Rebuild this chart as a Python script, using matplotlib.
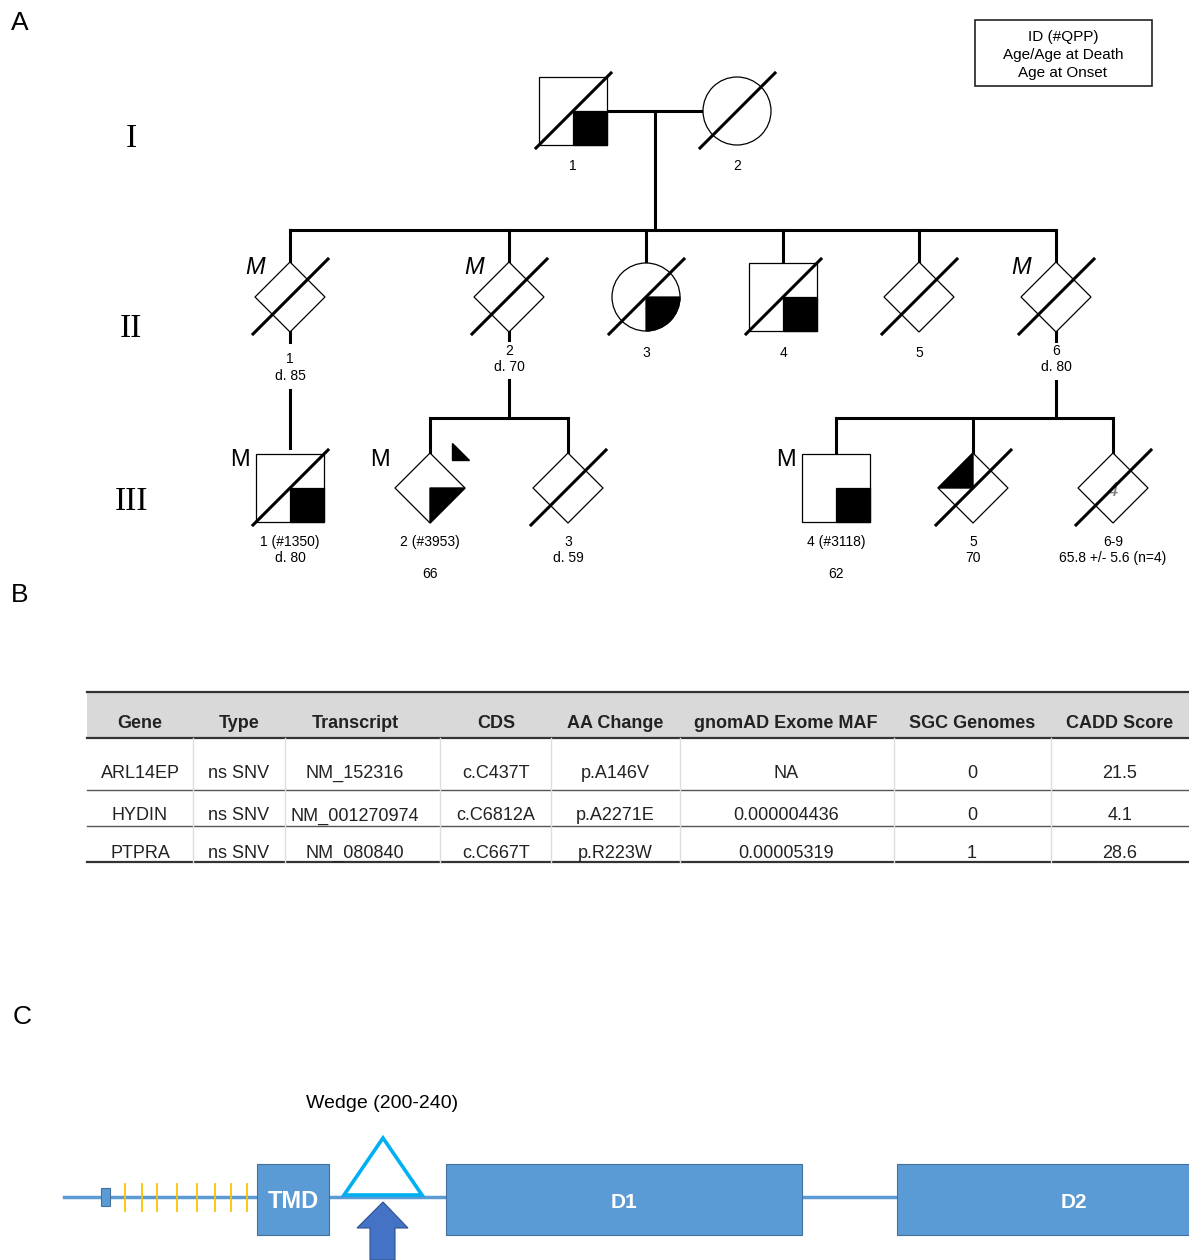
import matplotlib.pyplot as plt
from matplotlib.patches import Rectangle, Circle, Polygon, Wedge

plt.rcParams['font.family'] = ['Liberation Sans', 'DejaVu Sans']

# ---------------- data ----------------
# pedigree: generation, shape, shading, deceased, marker, label lines
gen_names = ['I', 'II', 'III']

ped_gen = [0, 0,
           1, 1, 1, 1, 1, 1,
           2, 2, 2, 2, 2, 2]
ped_shape = ['square', 'circle',
             'diamond', 'diamond', 'circle', 'square', 'diamond', 'diamond',
             'square', 'diamond', 'diamond', 'square', 'diamond', 'diamond']
ped_fill = ['lr', None,
            None, None, 'lr', 'lr', None, None,
            'lr', 'lr', None, 'lr', 'ul', None]
ped_dead = [True, True,
            True, True, True, True, True, True,
            True, False, True, False, True, True]
ped_M = [None, None,
         'it', 'it', None, None, None, 'it',
         'up', 'up', None, 'up', None, None]
ped_label1 = ['1', '2',
              '1', '2', '3', '4', '5', '6',
              '1 (#1350)', '2 (#3953)', '3', '4 (#3118)', '5', '6-9']
ped_label2 = ['', '',
              'd. 85', 'd. 70', '', '', '', 'd. 80',
              'd. 80', '', 'd. 59', '', '70', '65.8 +/- 5.6 (n=4)']
ped_label3 = ['', '', '', '', '', '', '', '',
              '', '66', '', '62', '', '']
ped_inner = [''] * 13 + ['4']
legend_lines = ['ID (#QPP)', 'Age/Age at Death', 'Age at Onset']

# table
tbl_header = ['Gene', 'Type', 'Transcript', 'CDS', 'AA Change',
              'gnomAD Exome MAF', 'SGC Genomes', 'CADD Score']
gene = ['ARL14EP', 'HYDIN', 'PTPRA']
vtype = ['ns SNV', 'ns SNV', 'ns SNV']
transcript = ['NM_152316', 'NM_001270974', 'NM_080840']
cds = ['c.C437T', 'c.C6812A', 'c.C667T']
aa_change = ['p.A146V', 'p.A2271E', 'p.R223W']
gnomad_maf = ['NA', '0.000004436', '0.00005319']
sgc_genomes = ['0', '0', '1']
cadd = ['21.5', '4.1', '28.6']

# protein domains
dom_names = ['TMD', 'D1', 'D2']
wedge_label = 'Wedge (200-240)'

# ---------------- layout (pixels) ----------------
W, H = 1189, 1260
gen_y = [111, 297, 488]
ped_x = [573, 737,
         290, 509, 646, 783, 919, 1056,
         290, 430, 568, 836, 973, 1113]
lab_y = [[165], [352, 368], [541, 557, 573]]

col_x = [140, 239, 355, 496, 615, 786, 972, 1120]
col_sep = [193, 285, 440, 551, 680, 894, 1051]
row_y = [771, 814, 851]
row_lines = [790, 826]

dom_x = [(257, 329), (446, 802), (897, 1200)]
tick_x = [125, 142, 157, 177, 197, 215, 231, 247]

BLUE = '#5b9bd5'
BLUE_EDGE = '#41719c'

fig = plt.figure(figsize=(W / 100, H / 100), dpi=100)
ax = fig.add_axes([0, 0, 1, 1])
ax.set_xlim(0, W)
ax.set_ylim(H, 0)
ax.set_aspect('equal')
ax.axis('off')


def txt(x, y, s, fs, **kw):
    # place text so that the middle of its cap height sits at y
    ax.text(x, y + 0.5 * 0.72 * fs * 100 / 72, s, fontsize=fs, ha='center', va='baseline', **kw)


# panel letters
for s, (x, y) in zip(['A', 'B', 'C'], [(20, 20), (20, 592), (22, 1015)]):
    txt(x, y, s, 19)

# generation numerals
for s, y in zip(gen_names, [135, 325, 498]):
    txt(131, y, s, 24, family='Liberation Serif')

# legend box
ax.add_patch(Rectangle((975, 20), 177, 66, fill=False, lw=1.2, ec='#222222'))
for i, s in enumerate(legend_lines):
    txt(1063, 35 + i * 18.5, s, 11)


def symbol(x, y, shape, fill, dead):
    if shape == 'square':
        h = 34
        ax.add_patch(Rectangle((x - h, y - h), 2 * h, 2 * h, fc='white', ec='black', lw=0.9, zorder=3))
        if fill == 'lr':
            ax.add_patch(Rectangle((x, y), h, h, fc='black', ec='black', lw=0.9, zorder=4))
    elif shape == 'circle':
        h = 34
        ax.add_patch(Circle((x, y), h, fc='white', ec='black', lw=0.9, zorder=3))
        if fill == 'lr':
            ax.add_patch(Wedge((x, y), h, 0, 90, fc='black', ec='black', lw=0.9, zorder=4))
    else:
        h = 35
        ax.add_patch(Polygon([(x, y - h), (x + h, y), (x, y + h), (x - h, y)],
                             closed=True, fc='white', ec='black', lw=0.9, zorder=3))
        if fill == 'lr':
            ax.add_patch(Polygon([(x, y), (x + h, y), (x, y + h)], fc='black', ec='black', zorder=4))
        elif fill == 'ul':
            ax.add_patch(Polygon([(x, y), (x - h, y), (x, y - h)], fc='black', ec='black', zorder=4))
    if dead:
        ax.plot([x - 37, x + 38], [y + 37, y - 38], color='black', lw=2.2, zorder=5)
    return h


LW = 2.2
# generation I mating and descent
ax.plot([607, 703], [111, 111], color='black', lw=LW, zorder=1)
ax.plot([655, 655], [111, 230], color='black', lw=LW, zorder=1)
ax.plot([290, 1056], [230, 230], color='black', lw=LW, zorder=1)
for x in ped_x[2:8]:
    ax.plot([x, x], [230, 262], color='black', lw=LW, zorder=1)
# II-1 -> III-1
ax.plot([290, 290], [332, 342], color='black', lw=LW, zorder=1)
ax.plot([290, 290], [390, 448], color='black', lw=LW, zorder=1)
# II-2 -> III-2, III-3
ax.plot([509, 509], [332, 340], color='black', lw=LW, zorder=1)
ax.plot([509, 509], [380, 418], color='black', lw=LW, zorder=1)
ax.plot([430, 568], [418, 418], color='black', lw=LW, zorder=1)
for x in [430, 568]:
    ax.plot([x, x], [418, 452], color='black', lw=LW, zorder=1)
# II-6 -> III-4..6
ax.plot([1056, 1056], [332, 341], color='black', lw=LW, zorder=1)
ax.plot([1056, 1056], [381, 418], color='black', lw=LW, zorder=1)
ax.plot([836, 1113], [418, 418], color='black', lw=LW, zorder=1)
for x in [836, 973, 1113]:
    ax.plot([x, x], [418, 454], color='black', lw=LW, zorder=1)

for i in range(len(ped_x)):
    g = ped_gen[i]
    x, y = ped_x[i], gen_y[g]
    h = symbol(x, y, ped_shape[i], ped_fill[i], ped_dead[i])
    if ped_M[i] == 'it':
        txt(x - 35, y - 32, 'M', 17, style='italic')
    elif ped_M[i] == 'up':
        txt(x - 50, y - 31, 'M', 17)
    if ped_inner[i]:
        txt(x, y, ped_inner[i], 15, style='italic', color='#808080', zorder=4)
    labs = [ped_label1[i], ped_label2[i], ped_label3[i]]
    ys = lab_y[g]
    if g == 1 and ped_label2[i]:
        ys = [y + 53, y + 69] if i != 2 else [y + 61, y + 78]
    for s, ly in zip(labs, ys):
        if s:
            txt(x, ly, s, 10)

# proband arrow for III-2
ax.add_patch(Polygon([(452, 443), (452, 460), (469, 460)], fc='black', ec='black', zorder=4))

# ---------------- table ----------------
ax.add_patch(Rectangle((87, 692), W - 87, 46, fc='#d9d9d9', ec='none'))
ax.plot([87, W], [692, 692], color='#333333', lw=1.6)
ax.plot([87, W], [738, 738], color='#333333', lw=1.6)
ax.plot([87, W], [862, 862], color='#333333', lw=1.6)
for ly in row_lines:
    ax.plot([87, W], [ly, ly], color='#555555', lw=1.0)
for x in col_sep:
    ax.plot([x, x], [738, 862], color='#dddddd', lw=1.0)
for x, s in zip(col_x, tbl_header):
    txt(x, 722, s, 13, fontweight='bold', color='#222222')
columns = [gene, vtype, transcript, cds, aa_change, gnomad_maf, sgc_genomes, cadd]
for x, col in zip(col_x, columns):
    for y, s in zip(row_y, col):
        txt(x, y, s, 13, color='#222222')

# ---------------- protein diagram ----------------
yb = 1197
ax.plot([64, W], [yb, yb], color=BLUE, lw=2.5, zorder=1)
ax.add_patch(Rectangle((101, 1188), 9, 18, fc=BLUE, ec=BLUE_EDGE, lw=0.8, zorder=2))
for x in tick_x:
    ax.plot([x, x], [1184, 1211], color='#ffc000', lw=1.3, zorder=2)
for (x0, x1), s in zip(dom_x, dom_names):
    ax.add_patch(Rectangle((x0, 1164), x1 - x0, 71, fc=BLUE, ec=BLUE_EDGE, lw=0.8, zorder=3))
    txt((x0 + x1) / 2 if s != 'D2' else 1074, 1200, s, 17 if s == 'TMD' else 15,
        fontweight='bold', color='white', zorder=4)
ax.add_patch(Polygon([(344, 1195), (383, 1138), (422, 1195)], closed=True, fill=False,
                     ec='#00b0f0', lw=2.6, zorder=3))
ax.add_patch(Polygon([(370, 1260), (370, 1228), (357, 1228), (383, 1202), (408, 1228),
                      (395, 1228), (395, 1260)], closed=True, fc='#4472c4', ec='#2f528f',
                     lw=0.8, zorder=3))
txt(382, 1101, wedge_label, 14)

fig.savefig('out.png', dpi=100)
